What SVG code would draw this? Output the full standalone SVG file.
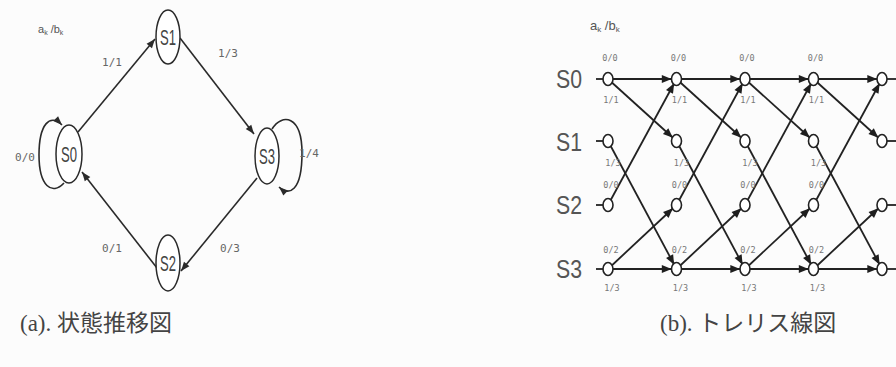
<svg xmlns="http://www.w3.org/2000/svg" width="896" height="367" viewBox="0 0 896 367">
<defs>
<marker id="ah" markerUnits="userSpaceOnUse" markerWidth="12" markerHeight="10" viewBox="-10 -5 12 10" refX="0" refY="0" orient="auto">
<path d="M-9,-3.5 L0,0 L-9,3.5 z" fill="#2a2a2a"/>
</marker>
<marker id="th" markerUnits="userSpaceOnUse" markerWidth="16" markerHeight="12" viewBox="-16 -6 18 12" refX="5.5" refY="0" orient="auto">
<path d="M-11,-4.5 L0,0 L-11,4.5 z" fill="#1e1e1e"/>
</marker>
<style>
.e{fill:none;stroke:#2a2a2a;stroke-width:1.6}
.t{fill:none;stroke:#222;stroke-width:1.8}
.st{fill:#fff;stroke:#2a2a2a;stroke-width:1.5}
.tn{fill:#fff;stroke:#222;stroke-width:1.6}
.sl{font-family:"Liberation Sans",sans-serif;font-size:22px;fill:#444;text-anchor:middle}
.lb{font-family:"DejaVu Sans Mono",monospace;font-size:11px;fill:#666;text-anchor:middle}
.tl{font-family:"DejaVu Sans Mono",monospace;font-size:8.5px;fill:#777;text-anchor:middle}
.rl{font-family:"Liberation Sans",sans-serif;font-size:25px;fill:#555;text-anchor:middle}
.ab{font-family:"Liberation Sans",sans-serif;fill:#555}
.cap{font-family:"Liberation Serif","Noto Sans CJK JP",serif;font-size:23px;fill:#444}
</style>
</defs>
<rect width="896" height="367" fill="#fcfcfc"/>

<!-- (a) state transition diagram -->
<g id="connectors-a">
<line class="e" x1="78" y1="132" x2="155" y2="39" marker-end="url(#ah)"/>
<line class="e" x1="180" y1="38" x2="254" y2="134" marker-end="url(#ah)"/>
<line class="e" x1="257" y1="178" x2="181" y2="271" marker-end="url(#ah)"/>
<line class="e" x1="157" y1="268" x2="82" y2="172" marker-end="url(#ah)"/>
<path class="e" d="M64,183 C52,196 39,186 39,155 C39,124 50,113 62,125" marker-end="url(#ah)"/>
<path class="e" d="M272,129 C282,113 302,115 302,153 C302,192 289,196 279,187" marker-end="url(#ah)"/>
</g>
<g id="a-S0"><ellipse class="st" cx="69" cy="154" rx="13" ry="29"/><text class="sl" x="69" y="162" textLength="16" lengthAdjust="spacingAndGlyphs">S0</text></g>
<g id="a-S1"><ellipse class="st" cx="168" cy="37" rx="12" ry="27"/><text class="sl" x="168" y="45" textLength="16" lengthAdjust="spacingAndGlyphs">S1</text></g>
<g id="a-S3"><ellipse class="st" cx="267" cy="156" rx="12" ry="28"/><text class="sl" x="267" y="164" textLength="16" lengthAdjust="spacingAndGlyphs">S3</text></g>
<g id="a-S2"><ellipse class="st" cx="168" cy="263" rx="12" ry="28"/><text class="sl" x="168" y="271" textLength="16" lengthAdjust="spacingAndGlyphs">S2</text></g>
<g id="a-labels">
<text class="ab" x="38" y="33" font-size="11">a<tspan font-size="7" dy="2">k</tspan><tspan dy="-2"> /b</tspan><tspan font-size="7" dy="2">k</tspan></text>
<text class="lb" x="112" y="66">1/1</text>
<text class="lb" x="228" y="57">1/3</text>
<text class="lb" x="25" y="161">0/0</text>
<text class="lb" x="309" y="157">1/4</text>
<text class="lb" x="112" y="252">0/1</text>
<text class="lb" x="230" y="252">0/3</text>
</g>

<!-- (b) trellis diagram -->
<g id="connectors-b">
<line class="t" x1="596" y1="79" x2="608" y2="79"/>
<line class="t" x1="596" y1="141" x2="608" y2="141"/>
<line class="t" x1="596" y1="205" x2="608" y2="205"/>
<line class="t" x1="596" y1="269" x2="608" y2="269"/>
<line class="t" x1="882" y1="79" x2="896" y2="79"/>
<line class="t" x1="882" y1="141" x2="896" y2="141"/>
<line class="t" x1="882" y1="205" x2="896" y2="205"/>
<line class="t" x1="882" y1="269" x2="896" y2="269"/>
<g id="stage0">
<line class="t" x1="608" y1="79" x2="676.5" y2="79" marker-end="url(#th)"/>
<line class="t" x1="608" y1="79" x2="676.5" y2="141" marker-end="url(#th)"/>
<line class="t" x1="608" y1="141" x2="676.5" y2="269" marker-end="url(#th)"/>
<line class="t" x1="608" y1="205" x2="676.5" y2="79" marker-end="url(#th)"/>
<line class="t" x1="608" y1="269" x2="676.5" y2="205" marker-end="url(#th)"/>
<line class="t" x1="608" y1="269" x2="676.5" y2="269" marker-end="url(#th)"/>
</g>
<g id="stage1">
<line class="t" x1="676.5" y1="79" x2="745" y2="79" marker-end="url(#th)"/>
<line class="t" x1="676.5" y1="79" x2="745" y2="141" marker-end="url(#th)"/>
<line class="t" x1="676.5" y1="141" x2="745" y2="269" marker-end="url(#th)"/>
<line class="t" x1="676.5" y1="205" x2="745" y2="79" marker-end="url(#th)"/>
<line class="t" x1="676.5" y1="269" x2="745" y2="205" marker-end="url(#th)"/>
<line class="t" x1="676.5" y1="269" x2="745" y2="269" marker-end="url(#th)"/>
</g>
<g id="stage2">
<line class="t" x1="745" y1="79" x2="813.5" y2="79" marker-end="url(#th)"/>
<line class="t" x1="745" y1="79" x2="813.5" y2="141" marker-end="url(#th)"/>
<line class="t" x1="745" y1="141" x2="813.5" y2="269" marker-end="url(#th)"/>
<line class="t" x1="745" y1="205" x2="813.5" y2="79" marker-end="url(#th)"/>
<line class="t" x1="745" y1="269" x2="813.5" y2="205" marker-end="url(#th)"/>
<line class="t" x1="745" y1="269" x2="813.5" y2="269" marker-end="url(#th)"/>
</g>
<g id="stage3">
<line class="t" x1="813.5" y1="79" x2="882" y2="79" marker-end="url(#th)"/>
<line class="t" x1="813.5" y1="79" x2="882" y2="141" marker-end="url(#th)"/>
<line class="t" x1="813.5" y1="141" x2="882" y2="269" marker-end="url(#th)"/>
<line class="t" x1="813.5" y1="205" x2="882" y2="79" marker-end="url(#th)"/>
<line class="t" x1="813.5" y1="269" x2="882" y2="205" marker-end="url(#th)"/>
<line class="t" x1="813.5" y1="269" x2="882" y2="269" marker-end="url(#th)"/>
</g>
</g>
<g id="trellis-nodes">
<g id="t0"><ellipse class="tn" cx="608" cy="79" rx="5" ry="6.5"/><ellipse class="tn" cx="608" cy="141" rx="5" ry="6.5"/><ellipse class="tn" cx="608" cy="205" rx="5" ry="6.5"/><ellipse class="tn" cx="608" cy="269" rx="5" ry="6.5"/></g>
<g id="t1"><ellipse class="tn" cx="676.5" cy="79" rx="5" ry="6.5"/><ellipse class="tn" cx="676.5" cy="141" rx="5" ry="6.5"/><ellipse class="tn" cx="676.5" cy="205" rx="5" ry="6.5"/><ellipse class="tn" cx="676.5" cy="269" rx="5" ry="6.5"/></g>
<g id="t2"><ellipse class="tn" cx="745" cy="79" rx="5" ry="6.5"/><ellipse class="tn" cx="745" cy="141" rx="5" ry="6.5"/><ellipse class="tn" cx="745" cy="205" rx="5" ry="6.5"/><ellipse class="tn" cx="745" cy="269" rx="5" ry="6.5"/></g>
<g id="t3"><ellipse class="tn" cx="813.5" cy="79" rx="5" ry="6.5"/><ellipse class="tn" cx="813.5" cy="141" rx="5" ry="6.5"/><ellipse class="tn" cx="813.5" cy="205" rx="5" ry="6.5"/><ellipse class="tn" cx="813.5" cy="269" rx="5" ry="6.5"/></g>
<g id="t4"><ellipse class="tn" cx="882" cy="79" rx="5" ry="6.5"/><ellipse class="tn" cx="882" cy="141" rx="5" ry="6.5"/><ellipse class="tn" cx="882" cy="205" rx="5" ry="6.5"/><ellipse class="tn" cx="882" cy="269" rx="5" ry="6.5"/></g>
</g>
<g id="trellis-labels">
<text class="rl" x="569" y="88" textLength="26" lengthAdjust="spacingAndGlyphs">S0</text>
<text class="rl" x="569" y="151" textLength="26" lengthAdjust="spacingAndGlyphs">S1</text>
<text class="rl" x="569" y="214" textLength="26" lengthAdjust="spacingAndGlyphs">S2</text>
<text class="rl" x="569" y="278" textLength="26" lengthAdjust="spacingAndGlyphs">S3</text>
<text class="ab" x="590" y="30" font-size="13">a<tspan font-size="8" dy="2">k</tspan><tspan dy="-2"> /b</tspan><tspan font-size="8" dy="2">k</tspan></text>
<g id="lab0"><text class="tl" x="610" y="61">0/0</text><text class="tl" x="611" y="103">1/1</text><text class="tl" x="613" y="166">1/3</text><text class="tl" x="611" y="188">0/0</text><text class="tl" x="611" y="253">0/2</text><text class="tl" x="612" y="291">1/3</text></g>
<g id="lab1"><text class="tl" x="678.5" y="61">0/0</text><text class="tl" x="679.5" y="103">1/1</text><text class="tl" x="681.5" y="166">1/3</text><text class="tl" x="679.5" y="188">0/0</text><text class="tl" x="679.5" y="253">0/2</text><text class="tl" x="680.5" y="291">1/3</text></g>
<g id="lab2"><text class="tl" x="747" y="61">0/0</text><text class="tl" x="748" y="103">1/1</text><text class="tl" x="750" y="166">1/3</text><text class="tl" x="748" y="188">0/0</text><text class="tl" x="748" y="253">0/2</text><text class="tl" x="749" y="291">1/3</text></g>
<g id="lab3"><text class="tl" x="815.5" y="61">0/0</text><text class="tl" x="816.5" y="103">1/1</text><text class="tl" x="818.5" y="166">1/3</text><text class="tl" x="816.5" y="188">0/0</text><text class="tl" x="816.5" y="253">0/2</text><text class="tl" x="817.5" y="291">1/3</text></g>
</g>

<g id="captions">
<text class="cap" x="20" y="331">(a). 状態推移図</text>
<text class="cap" x="660" y="331">(b). トレリス線図</text>
</g>
</svg>
